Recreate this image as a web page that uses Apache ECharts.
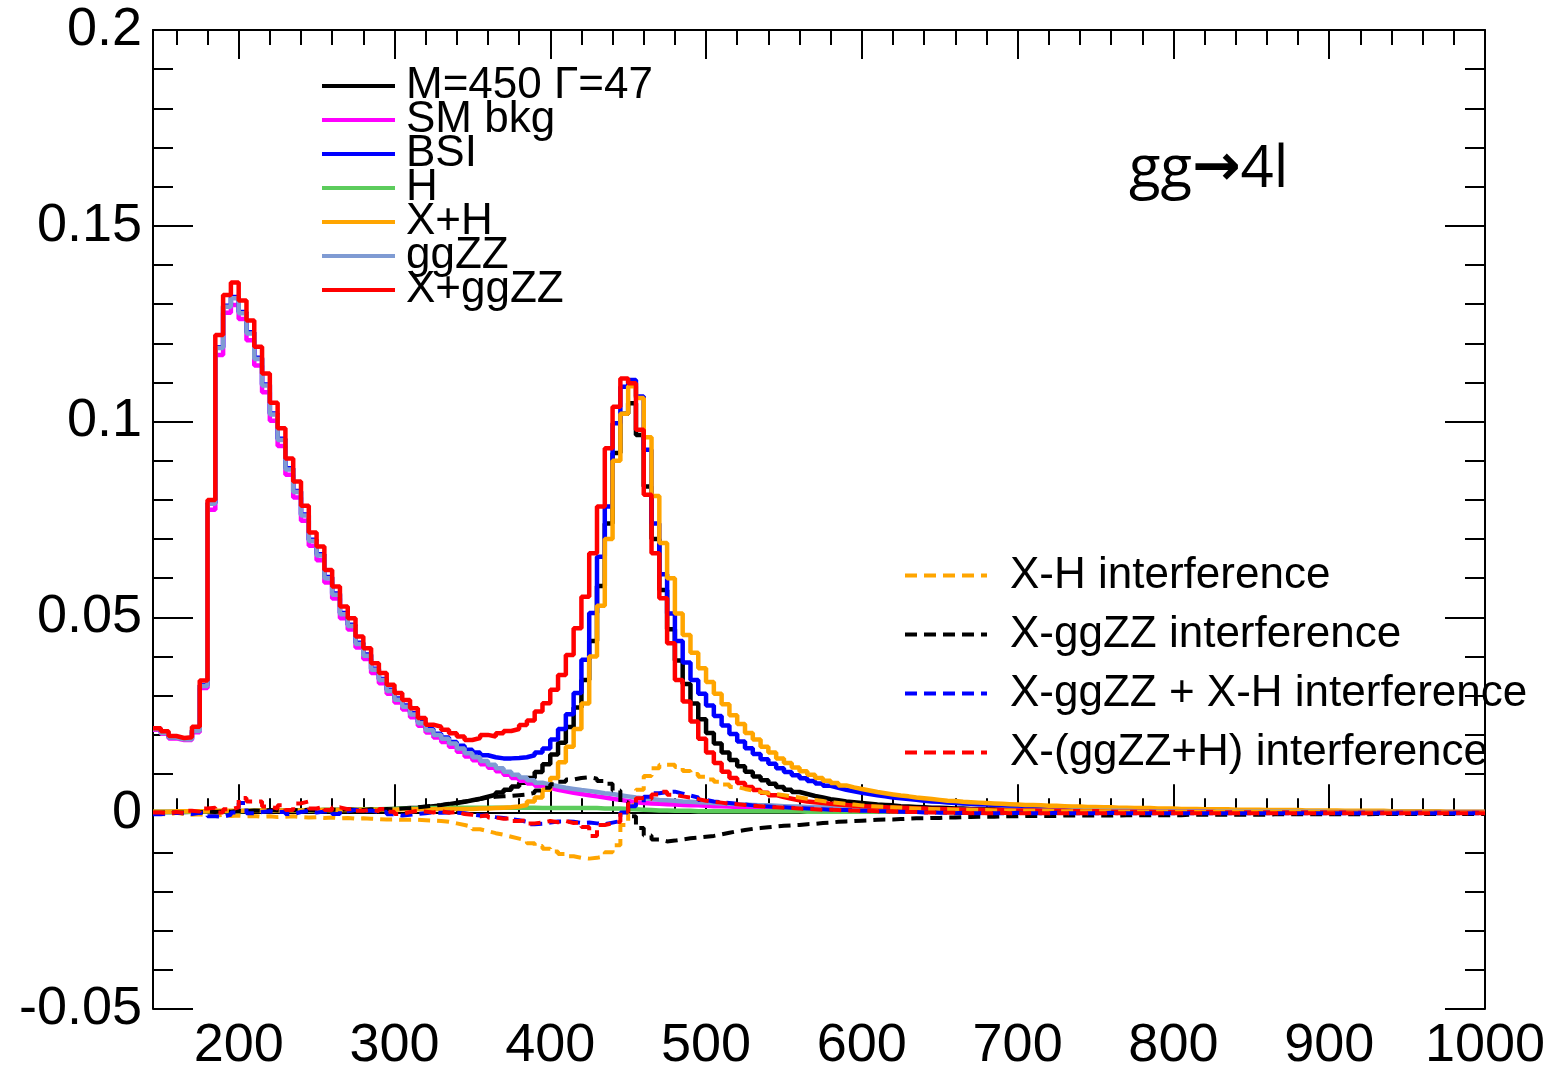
<!DOCTYPE html>
<html>
<head>
<meta charset="utf-8">
<script src="https://cdn.jsdelivr.net/npm/echarts@6/dist/echarts.min.js"></script>
<style>
  html, body { margin: 0; padding: 0; background: #ffffff; }
  #chart { width: 1557px; height: 1075px; }
</style>
</head>
<body>
<div id="chart"></div>
<script>
// Four-lepton invariant mass spectrum, gg -> 4l, heavy scalar X (M=450, Gamma=47)
// Histograms in 5 GeV bins from 145 to 1000.
const massLow = 145;
const massHigh = 1000;
const binWidth = 5;

const xMajorTicks = [200, 300, 400, 500, 600, 700, 800, 900, 1000];
const xMinorTicks = [160, 180, 220, 240, 260, 280, 320, 340, 360, 380, 420, 440, 460, 480,
  520, 540, 560, 580, 620, 640, 660, 680, 720, 740, 760, 780, 820, 840, 860, 880, 920, 940, 960, 980];

// M=450 Gamma=47 (signal X alone)
const signalX = [
  0.0003, 0.0003, 0.0003, 0.0003, 0.0004, 0.0004, 0.0004, 0.0004, 0.0005, 0.0005,
  0.0005, 0.0005, 0.0005, 0.0006, 0.0006, 0.0006, 0.0006, 0.0007, 0.0007, 0.0007,
  0.0007, 0.0008, 0.0008, 0.0008, 0.0008, 0.0008, 0.0009, 0.0009, 0.0009, 0.0010,
  0.0011, 0.0012, 0.0013, 0.0014, 0.0016, 0.0018, 0.0020, 0.0023, 0.0026, 0.0029,
  0.0033, 0.0037, 0.0042, 0.0047, 0.0053, 0.0060, 0.0068, 0.0078, 0.0090, 0.0105,
  0.0125, 0.0150, 0.0180, 0.0220, 0.0270, 0.0340, 0.0440, 0.0580, 0.0740, 0.0920,
  0.1020, 0.1047, 0.0966, 0.0834, 0.0700, 0.0570, 0.0470, 0.0390, 0.0330, 0.0280,
  0.0240, 0.0205, 0.0178, 0.0155, 0.0136, 0.0120, 0.0106, 0.0094, 0.0084, 0.0075,
  0.0067, 0.0060, 0.0054, 0.0049, 0.0044, 0.0040, 0.0036, 0.0033, 0.0030, 0.0028,
  0.0026, 0.0024, 0.0022, 0.0021, 0.0020, 0.0018, 0.0017, 0.0016, 0.0015, 0.0014,
  0.0014, 0.0013, 0.0012, 0.0012, 0.0011, 0.0011, 0.0010, 0.0010, 0.0009, 0.0009,
  0.0009, 0.0008, 0.0008, 0.0008, 0.0007, 0.0007, 0.0007, 0.0007, 0.0006, 0.0006,
  0.0006, 0.0006, 0.0006, 0.0006, 0.0005, 0.0005, 0.0005, 0.0005, 0.0005, 0.0005,
  0.0005, 0.0005, 0.0005, 0.0004, 0.0004, 0.0004, 0.0004, 0.0004, 0.0004, 0.0004,
  0.0004, 0.0004, 0.0004, 0.0004, 0.0003, 0.0003, 0.0003, 0.0003, 0.0003, 0.0003,
  0.0003, 0.0003, 0.0003, 0.0003, 0.0003, 0.0003, 0.0003, 0.0003, 0.0003, 0.0003,
  0.0003, 0.0003, 0.0003, 0.0002, 0.0002, 0.0002, 0.0002, 0.0002, 0.0002, 0.0002,
  0.0002
];

// SM bkg
const smBkg = [
  0.0213, 0.0203, 0.0191, 0.0187, 0.0187, 0.0207, 0.0320, 0.0775, 0.1170, 0.1278,
  0.1298, 0.1262, 0.1208, 0.1143, 0.1075, 0.1002, 0.0938, 0.0864, 0.0806, 0.0747,
  0.0683, 0.0646, 0.0589, 0.0548, 0.0498, 0.0469, 0.0423, 0.0394, 0.0358, 0.0332,
  0.0305, 0.0283, 0.0265, 0.0245, 0.0223, 0.0206, 0.0193, 0.0182, 0.0170, 0.0157,
  0.0145, 0.0135, 0.0125, 0.0116, 0.0107, 0.0098, 0.0090, 0.0083, 0.0076, 0.0070,
  0.0065, 0.0060, 0.0056, 0.0052, 0.0049, 0.0046, 0.0043, 0.0040, 0.0037, 0.0034,
  0.0031, 0.0028, 0.0026, 0.0025, 0.0024, 0.0023, 0.0022, 0.0021, 0.0020, 0.0020,
  0.0019, 0.0018, 0.0018, 0.0017, 0.0016, 0.0016, 0.0015, 0.0015, 0.0014, 0.0014,
  0.0013, 0.0013, 0.0012, 0.0012, 0.0012, 0.0011, 0.0011, 0.0011, 0.0010, 0.0010,
  0.0010, 0.0009, 0.0009, 0.0009, 0.0009, 0.0008, 0.0008, 0.0008, 0.0008, 0.0008,
  0.0008, 0.0008, 0.0008, 0.0007, 0.0007, 0.0007, 0.0007, 0.0007, 0.0007, 0.0007,
  0.0006, 0.0006, 0.0006, 0.0006, 0.0006, 0.0006, 0.0006, 0.0006, 0.0006, 0.0006,
  0.0005, 0.0005, 0.0005, 0.0005, 0.0005, 0.0005, 0.0005, 0.0005, 0.0005, 0.0005,
  0.0005, 0.0005, 0.0005, 0.0005, 0.0005, 0.0004, 0.0004, 0.0004, 0.0004, 0.0004,
  0.0004, 0.0004, 0.0004, 0.0004, 0.0004, 0.0004, 0.0004, 0.0004, 0.0004, 0.0004,
  0.0003, 0.0003, 0.0003, 0.0003, 0.0003, 0.0003, 0.0003, 0.0003, 0.0003, 0.0003,
  0.0003, 0.0003, 0.0003, 0.0003, 0.0003, 0.0002, 0.0002, 0.0002, 0.0002, 0.0002,
  0.0002
];

// BSI
const bsi = [
  0.0216, 0.0206, 0.0194, 0.0190, 0.0190, 0.0212, 0.0327, 0.0792, 0.1190, 0.1296,
  0.1318, 0.1280, 0.1228, 0.1163, 0.1095, 0.1021, 0.0956, 0.0881, 0.0823, 0.0763,
  0.0698, 0.0661, 0.0603, 0.0561, 0.0511, 0.0481, 0.0435, 0.0405, 0.0369, 0.0343,
  0.0315, 0.0293, 0.0275, 0.0255, 0.0233, 0.0215, 0.0203, 0.0193, 0.0182, 0.0172,
  0.0162, 0.0155, 0.0148, 0.0143, 0.0140, 0.0140, 0.0141, 0.0143, 0.0148, 0.0155,
  0.0165, 0.0188, 0.0215, 0.0253, 0.0307, 0.0392, 0.0511, 0.0655, 0.0783, 0.0996,
  0.1089, 0.1106, 0.1064, 0.0928, 0.0740, 0.0610, 0.0510, 0.0440, 0.0385, 0.0340,
  0.0305, 0.0275, 0.0248, 0.0224, 0.0202, 0.0183, 0.0166, 0.0151, 0.0138, 0.0126,
  0.0115, 0.0105, 0.0097, 0.0089, 0.0082, 0.0076, 0.0070, 0.0065, 0.0060, 0.0056,
  0.0052, 0.0049, 0.0046, 0.0043, 0.0040, 0.0038, 0.0036, 0.0034, 0.0032, 0.0030,
  0.0029, 0.0027, 0.0026, 0.0025, 0.0024, 0.0023, 0.0022, 0.0021, 0.0020, 0.0019,
  0.0018, 0.0017, 0.0017, 0.0016, 0.0015, 0.0015, 0.0014, 0.0014, 0.0013, 0.0013,
  0.0012, 0.0012, 0.0011, 0.0011, 0.0011, 0.0010, 0.0010, 0.0010, 0.0009, 0.0009,
  0.0009, 0.0008, 0.0008, 0.0008, 0.0008, 0.0007, 0.0007, 0.0007, 0.0007, 0.0006,
  0.0006, 0.0006, 0.0006, 0.0006, 0.0006, 0.0005, 0.0005, 0.0005, 0.0005, 0.0005,
  0.0005, 0.0005, 0.0005, 0.0004, 0.0004, 0.0004, 0.0004, 0.0004, 0.0004, 0.0004,
  0.0004, 0.0004, 0.0004, 0.0003, 0.0003, 0.0003, 0.0003, 0.0003, 0.0003, 0.0003,
  0.0003
];

// H (SM Higgs)
const higgs = [
  0.0003, 0.0003, 0.0003, 0.0004, 0.0004, 0.0004, 0.0005, 0.0005, 0.0005, 0.0005,
  0.0005, 0.0006, 0.0006, 0.0006, 0.0006, 0.0006, 0.0007, 0.0007, 0.0007, 0.0007,
  0.0008, 0.0008, 0.0008, 0.0009, 0.0009, 0.0009, 0.0010, 0.0010, 0.0010, 0.0011,
  0.0011, 0.0012, 0.0012, 0.0012, 0.0013, 0.0013, 0.0013, 0.0013, 0.0014, 0.0014,
  0.0014, 0.0014, 0.0014, 0.0014, 0.0014, 0.0014, 0.0014, 0.0014, 0.0014, 0.0013,
  0.0013, 0.0013, 0.0013, 0.0013, 0.0013, 0.0013, 0.0013, 0.0012, 0.0012, 0.0012,
  0.0011, 0.0010, 0.0009, 0.0008, 0.0007, 0.0007, 0.0006, 0.0006, 0.0006, 0.0005,
  0.0005, 0.0005, 0.0005, 0.0005, 0.0005, 0.0005, 0.0005, 0.0005, 0.0005, 0.0005,
  0.0005, 0.0005, 0.0005, 0.0004, 0.0004, 0.0004, 0.0004, 0.0004, 0.0004, 0.0004,
  0.0004, 0.0004, 0.0004, 0.0004, 0.0004, 0.0004, 0.0004, 0.0004, 0.0004, 0.0004,
  0.0003, 0.0003, 0.0003, 0.0003, 0.0003, 0.0003, 0.0003, 0.0003, 0.0003, 0.0003,
  0.0003, 0.0003, 0.0003, 0.0003, 0.0003, 0.0003, 0.0003, 0.0003, 0.0003, 0.0003,
  0.0002, 0.0002, 0.0002, 0.0002, 0.0002, 0.0002, 0.0002, 0.0002, 0.0002, 0.0002,
  0.0002, 0.0002, 0.0002, 0.0002, 0.0002, 0.0002, 0.0002, 0.0002, 0.0002, 0.0002,
  0.0002, 0.0002, 0.0002, 0.0002, 0.0002, 0.0001, 0.0001, 0.0001, 0.0001, 0.0001,
  0.0001, 0.0001, 0.0001, 0.0001, 0.0001, 0.0001, 0.0001, 0.0001, 0.0001, 0.0001,
  0.0001, 0.0001, 0.0001, 0.0001, 0.0001, 0.0001, 0.0001, 0.0001, 0.0001, 0.0001,
  0.0001
];

// X+H
const xPlusH = [
  0.0004, 0.0004, 0.0005, 0.0005, 0.0005, 0.0005, 0.0005, 0.0006, 0.0006, 0.0006,
  0.0006, 0.0006, 0.0006, 0.0007, 0.0007, 0.0007, 0.0007, 0.0007, 0.0007, 0.0008,
  0.0008, 0.0008, 0.0008, 0.0008, 0.0008, 0.0009, 0.0009, 0.0009, 0.0009, 0.0009,
  0.0009, 0.0010, 0.0010, 0.0010, 0.0010, 0.0010, 0.0011, 0.0011, 0.0011, 0.0011,
  0.0011, 0.0012, 0.0012, 0.0013, 0.0014, 0.0015, 0.0017, 0.0021, 0.0030, 0.0040,
  0.0060, 0.0090, 0.0130, 0.0170, 0.0215, 0.0280, 0.0400, 0.0530, 0.0700, 0.0900,
  0.1020, 0.1090, 0.1060, 0.0960, 0.0810, 0.0690, 0.0600, 0.0510, 0.0455, 0.0410,
  0.0370, 0.0335, 0.0305, 0.0278, 0.0250, 0.0228, 0.0205, 0.0188, 0.0170, 0.0155,
  0.0140, 0.0128, 0.0117, 0.0107, 0.0098, 0.0090, 0.0083, 0.0077, 0.0071, 0.0066,
  0.0062, 0.0058, 0.0054, 0.0051, 0.0048, 0.0045, 0.0043, 0.0040, 0.0038, 0.0036,
  0.0034, 0.0032, 0.0031, 0.0029, 0.0028, 0.0027, 0.0026, 0.0025, 0.0024, 0.0023,
  0.0022, 0.0021, 0.0021, 0.0020, 0.0019, 0.0019, 0.0018, 0.0017, 0.0017, 0.0016,
  0.0016, 0.0015, 0.0015, 0.0014, 0.0014, 0.0013, 0.0013, 0.0013, 0.0012, 0.0012,
  0.0012, 0.0011, 0.0011, 0.0011, 0.0010, 0.0010, 0.0010, 0.0010, 0.0009, 0.0009,
  0.0009, 0.0009, 0.0008, 0.0008, 0.0008, 0.0008, 0.0008, 0.0007, 0.0007, 0.0007,
  0.0007, 0.0007, 0.0006, 0.0006, 0.0006, 0.0006, 0.0006, 0.0006, 0.0005, 0.0005,
  0.0005, 0.0005, 0.0005, 0.0005, 0.0005, 0.0004, 0.0004, 0.0004, 0.0004, 0.0004,
  0.0004
];

// ggZZ
const ggZZ = [
  0.0215, 0.0205, 0.0193, 0.0189, 0.0189, 0.0210, 0.0325, 0.0790, 0.1188, 0.1293,
  0.1315, 0.1277, 0.1225, 0.1160, 0.1092, 0.1018, 0.0953, 0.0878, 0.0820, 0.0760,
  0.0695, 0.0658, 0.0600, 0.0558, 0.0508, 0.0478, 0.0432, 0.0402, 0.0366, 0.0340,
  0.0312, 0.0290, 0.0272, 0.0252, 0.0230, 0.0212, 0.0200, 0.0190, 0.0178, 0.0165,
  0.0153, 0.0143, 0.0133, 0.0124, 0.0115, 0.0106, 0.0098, 0.0091, 0.0084, 0.0078,
  0.0073, 0.0069, 0.0065, 0.0062, 0.0059, 0.0057, 0.0054, 0.0051, 0.0049, 0.0046,
  0.0043, 0.0040, 0.0038, 0.0036, 0.0034, 0.0033, 0.0032, 0.0030, 0.0029, 0.0028,
  0.0027, 0.0026, 0.0025, 0.0024, 0.0023, 0.0022, 0.0021, 0.0020, 0.0020, 0.0019,
  0.0018, 0.0017, 0.0017, 0.0016, 0.0016, 0.0015, 0.0015, 0.0014, 0.0014, 0.0013,
  0.0013, 0.0012, 0.0012, 0.0012, 0.0011, 0.0011, 0.0011, 0.0010, 0.0010, 0.0010,
  0.0009, 0.0009, 0.0009, 0.0009, 0.0009, 0.0008, 0.0008, 0.0008, 0.0008, 0.0008,
  0.0008, 0.0007, 0.0007, 0.0007, 0.0007, 0.0007, 0.0006, 0.0006, 0.0006, 0.0006,
  0.0006, 0.0006, 0.0006, 0.0006, 0.0006, 0.0005, 0.0005, 0.0005, 0.0005, 0.0005,
  0.0005, 0.0005, 0.0005, 0.0005, 0.0005, 0.0004, 0.0004, 0.0004, 0.0004, 0.0004,
  0.0004, 0.0004, 0.0004, 0.0004, 0.0004, 0.0004, 0.0004, 0.0004, 0.0004, 0.0004,
  0.0003, 0.0003, 0.0003, 0.0003, 0.0003, 0.0003, 0.0003, 0.0003, 0.0003, 0.0003,
  0.0003, 0.0003, 0.0003, 0.0003, 0.0003, 0.0002, 0.0002, 0.0002, 0.0002, 0.0002,
  0.0002
];

// X+ggZZ
const xPlusGgZZ = [
  0.0217, 0.0209, 0.0197, 0.0192, 0.0194, 0.0221, 0.0339, 0.0800, 0.1221, 0.1323,
  0.1355, 0.1309, 0.1258, 0.1191, 0.1123, 0.1048, 0.0983, 0.0906, 0.0847, 0.0785,
  0.0717, 0.0681, 0.0621, 0.0579, 0.0528, 0.0498, 0.0451, 0.0421, 0.0383, 0.0358,
  0.0328, 0.0307, 0.0289, 0.0268, 0.0243, 0.0226, 0.0221, 0.0213, 0.0204, 0.0196,
  0.0187, 0.0192, 0.0200, 0.0196, 0.0204, 0.0210, 0.0215, 0.0225, 0.0237, 0.0260,
  0.0281, 0.0315, 0.0353, 0.0404, 0.0472, 0.0553, 0.0664, 0.0783, 0.0932, 0.1038,
  0.1110, 0.1098, 0.0979, 0.0813, 0.0664, 0.0549, 0.0434, 0.0340, 0.0285, 0.0234,
  0.0190, 0.0155, 0.0128, 0.0106, 0.0090, 0.0077, 0.0067, 0.0059, 0.0052, 0.0046,
  0.0041, 0.0037, 0.0033, 0.0030, 0.0028, 0.0026, 0.0024, 0.0022, 0.0021, 0.0019,
  0.0018, 0.0017, 0.0016, 0.0015, 0.0014, 0.0014, 0.0013, 0.0012, 0.0012, 0.0011,
  0.0011, 0.0010, 0.0010, 0.0009, 0.0009, 0.0009, 0.0008, 0.0008, 0.0008, 0.0007,
  0.0007, 0.0007, 0.0007, 0.0006, 0.0006, 0.0006, 0.0006, 0.0005, 0.0005, 0.0005,
  0.0005, 0.0005, 0.0004, 0.0004, 0.0004, 0.0004, 0.0004, 0.0004, 0.0003, 0.0003,
  0.0003, 0.0003, 0.0003, 0.0003, 0.0003, 0.0003, 0.0002, 0.0002, 0.0002, 0.0002,
  0.0002, 0.0002, 0.0002, 0.0002, 0.0002, 0.0002, 0.0002, 0.0002, 0.0002, 0.0002,
  0.0002, 0.0002, 0.0002, 0.0001, 0.0001, 0.0001, 0.0001, 0.0001, 0.0001, 0.0001,
  0.0001, 0.0001, 0.0001, 0.0001, 0.0001, 0.0001, 0.0001, 0.0001, 0.0001, 0.0001,
  0.0001
];

// X-H interference
const intXH = [
  -0.0002, -0.0003, 0.0001, -0.0002, -0.0004, -0.0003, -0.0005, -0.0006, -0.0004, -0.0007,
  -0.0006, -0.0008, -0.0007, -0.0009, -0.0008, -0.0010, -0.0009, -0.0008, -0.0010, -0.0011,
  -0.0010, -0.0012, -0.0011, -0.0013, -0.0012, -0.0014, -0.0013, -0.0014, -0.0015, -0.0016,
  -0.0016, -0.0017, -0.0017, -0.0017, -0.0018, -0.0019, -0.0020, -0.0022, -0.0026, -0.0030,
  -0.0035, -0.0041, -0.0046, -0.0051, -0.0055, -0.0060, -0.0065, -0.0070, -0.0077, -0.0084,
  -0.0091, -0.0098, -0.0104, -0.0110, -0.0114, -0.0116, -0.0114, -0.0110, -0.0100, -0.0082,
  -0.0030, 0.0020, 0.0060, 0.0095, 0.0115, 0.0124, 0.0124, 0.0118, 0.0108, 0.0100,
  0.0093, 0.0086, 0.0080, 0.0073, 0.0067, 0.0062, 0.0058, 0.0054, 0.0051, 0.0049,
  0.0046, 0.0043, 0.0040, 0.0037, 0.0034, 0.0031, 0.0028, 0.0026, 0.0024, 0.0022,
  0.0020, 0.0018, 0.0017, 0.0016, 0.0015, 0.0014, 0.0013, 0.0012, 0.0011, 0.0011,
  0.0010, 0.0010, 0.0009, 0.0009, 0.0008, 0.0008, 0.0008, 0.0007, 0.0007, 0.0007,
  0.0006, 0.0006, 0.0006, 0.0006, 0.0006, 0.0005, 0.0005, 0.0005, 0.0005, 0.0005,
  0.0005, 0.0005, 0.0005, 0.0004, 0.0004, 0.0004, 0.0004, 0.0004, 0.0004, 0.0004,
  0.0004, 0.0004, 0.0004, 0.0003, 0.0003, 0.0003, 0.0003, 0.0003, 0.0003, 0.0003,
  0.0003, 0.0003, 0.0003, 0.0003, 0.0003, 0.0003, 0.0003, 0.0003, 0.0003, 0.0003,
  0.0002, 0.0002, 0.0002, 0.0002, 0.0002, 0.0002, 0.0002, 0.0002, 0.0002, 0.0002,
  0.0002, 0.0002, 0.0002, 0.0002, 0.0002, 0.0001, 0.0001, 0.0001, 0.0001, 0.0001,
  0.0001
];

// X-ggZZ interference
const intXggZZ = [
  0.0001, 0.0002, 0.0001, 0.0002, 0.0003, 0.0002, 0.0004, 0.0003, 0.0005, 0.0004,
  0.0006, 0.0005, 0.0007, 0.0006, 0.0008, 0.0007, 0.0006, 0.0008, 0.0007, 0.0009,
  0.0008, 0.0007, 0.0009, 0.0008, 0.0010, 0.0009, 0.0008, 0.0010, 0.0009, 0.0011,
  0.0010, 0.0012, 0.0013, 0.0015, 0.0017, 0.0019, 0.0021, 0.0024, 0.0027, 0.0030,
  0.0033, 0.0036, 0.0040, 0.0042, 0.0043, 0.0044, 0.0046, 0.0048, 0.0052, 0.0058,
  0.0065, 0.0074, 0.0080, 0.0086, 0.0090, 0.0092, 0.0088, 0.0082, 0.0075, 0.0058,
  0.0028, -0.0008, -0.0038, -0.0057, -0.0067, -0.0072, -0.0070, -0.0067, -0.0064, -0.0062,
  -0.0060, -0.0058, -0.0054, -0.0050, -0.0046, -0.0043, -0.0040, -0.0038, -0.0036, -0.0034,
  -0.0032, -0.0031, -0.0030, -0.0028, -0.0027, -0.0025, -0.0024, -0.0022, -0.0021, -0.0020,
  -0.0019, -0.0018, -0.0017, -0.0016, -0.0016, -0.0015, -0.0014, -0.0013, -0.0013, -0.0012,
  -0.0012, -0.0011, -0.0011, -0.0010, -0.0010, -0.0009, -0.0009, -0.0009, -0.0008, -0.0008,
  -0.0008, -0.0007, -0.0007, -0.0007, -0.0007, -0.0007, -0.0006, -0.0006, -0.0006, -0.0006,
  -0.0006, -0.0006, -0.0006, -0.0006, -0.0005, -0.0005, -0.0005, -0.0005, -0.0005, -0.0005,
  -0.0005, -0.0005, -0.0004, -0.0004, -0.0004, -0.0004, -0.0004, -0.0004, -0.0004, -0.0004,
  -0.0004, -0.0004, -0.0004, -0.0003, -0.0003, -0.0003, -0.0003, -0.0003, -0.0003, -0.0003,
  -0.0003, -0.0003, -0.0003, -0.0003, -0.0003, -0.0003, -0.0002, -0.0002, -0.0002, -0.0002,
  -0.0002, -0.0002, -0.0002, -0.0002, -0.0002, -0.0002, -0.0002, -0.0002, -0.0002, -0.0002,
  -0.0002
];

// X-ggZZ + X-H interference
const intSum = [
  -0.0003, 0.0000, 0.0001, 0.0000, -0.0002, 0.0001, -0.0001, -0.0008, -0.0009, -0.0004,
  0.0002, 0.0026, 0.0000, 0.0003, 0.0005, 0.0003, 0.0004, -0.0002, 0.0003, 0.0006,
  0.0002, 0.0004, 0.0006, -0.0002, 0.0005, 0.0009, 0.0005, 0.0007, 0.0003, 0.0004,
  -0.0003, -0.0006, -0.0004, -0.0002, 0.0000, 0.0002, 0.0001, 0.0002, 0.0001, 0.0000,
  -0.0003, -0.0006, -0.0006, -0.0010, -0.0012, -0.0015, -0.0018, -0.0022, -0.0028, -0.0027,
  -0.0024, -0.0021, -0.0021, -0.0022, -0.0025, -0.0024, -0.0026, -0.0028, -0.0024, -0.0020,
  0.0002, 0.0018, 0.0028, 0.0042, 0.0051, 0.0054, 0.0055, 0.0050, 0.0045, 0.0040,
  0.0034, 0.0030, 0.0028, 0.0026, 0.0024, 0.0022, 0.0020, 0.0018, 0.0017, 0.0016,
  0.0015, 0.0014, 0.0013, 0.0012, 0.0011, 0.0010, 0.0009, 0.0008, 0.0008, 0.0007,
  0.0006, 0.0006, 0.0005, 0.0005, 0.0004, 0.0004, 0.0003, 0.0003, 0.0002, 0.0002,
  0.0001, 0.0001, 0.0000, 0.0001, 0.0000, 0.0000, 0.0001, 0.0000, 0.0000, 0.0000,
  0.0001, 0.0000, 0.0000, 0.0000, 0.0000, 0.0001, 0.0000, 0.0000, 0.0000, 0.0000,
  0.0000, 0.0000, 0.0001, 0.0000, 0.0000, 0.0000, 0.0000, 0.0000, 0.0000, 0.0000,
  0.0000, 0.0000, 0.0000, 0.0000, 0.0000, 0.0000, 0.0000, 0.0000, 0.0000, 0.0000,
  0.0000, 0.0000, 0.0000, 0.0000, 0.0000, 0.0000, 0.0000, 0.0000, 0.0000, 0.0000,
  0.0000, 0.0000, 0.0000, 0.0000, 0.0000, 0.0000, 0.0000, 0.0000, 0.0000, 0.0000,
  0.0000, 0.0000, 0.0000, 0.0000, 0.0000, 0.0000, 0.0000, 0.0000, 0.0000, 0.0000,
  0.0000
];

// X-(ggZZ+H) interference
const intXggZZH = [
  0.0002, -0.0001, 0.0003, 0.0000, 0.0006, 0.0004, 0.0012, 0.0014, 0.0002, 0.0010,
  0.0015, 0.0039, 0.0030, 0.0030, 0.0017, 0.0012, 0.0020, 0.0008, 0.0025, 0.0030,
  0.0012, 0.0017, 0.0008, 0.0015, 0.0010, 0.0012, 0.0006, 0.0009, 0.0005, 0.0011,
  0.0004, -0.0002, 0.0003, 0.0006, 0.0004, 0.0002, 0.0005, 0.0001, 0.0003, -0.0002,
  -0.0004, -0.0008, -0.0005, -0.0011, -0.0014, -0.0013, -0.0020, -0.0018, -0.0026, -0.0024,
  -0.0020, -0.0023, -0.0020, -0.0025, -0.0024, -0.0035, -0.0058, -0.0030, -0.0026, -0.0022,
  0.0004, 0.0025, 0.0038, 0.0036, 0.0048, 0.0055, 0.0047, 0.0043, 0.0040, 0.0036,
  0.0032, 0.0029, 0.0027, 0.0024, 0.0023, 0.0021, 0.0019, 0.0018, 0.0016, 0.0015,
  0.0014, 0.0013, 0.0012, 0.0011, 0.0010, 0.0009, 0.0009, 0.0008, 0.0007, 0.0007,
  0.0006, 0.0006, 0.0005, 0.0005, 0.0004, 0.0004, 0.0003, 0.0003, 0.0002, 0.0002,
  0.0002, 0.0001, 0.0001, 0.0001, 0.0000, 0.0001, 0.0000, 0.0000, 0.0001, 0.0000,
  0.0000, 0.0000, 0.0001, 0.0000, 0.0000, 0.0000, 0.0000, 0.0000, 0.0000, 0.0000,
  0.0000, 0.0000, 0.0000, 0.0000, 0.0000, 0.0000, 0.0000, 0.0000, 0.0000, 0.0000,
  0.0000, 0.0000, 0.0000, 0.0000, 0.0000, 0.0000, 0.0000, 0.0000, 0.0000, 0.0000,
  0.0000, 0.0000, 0.0000, 0.0000, 0.0000, 0.0000, 0.0000, 0.0000, 0.0000, 0.0000,
  0.0000, 0.0000, 0.0000, 0.0000, 0.0000, 0.0000, 0.0000, 0.0000, 0.0000, 0.0000,
  0.0000, 0.0000, 0.0000, 0.0000, 0.0000, 0.0000, 0.0000, 0.0000, 0.0000, 0.0000,
  0.0000
];

// Turn per-bin contents into step points: [lower edge, content] plus the closing edge.
function histPoints(contents) {
  const pts = contents.map((v, i) => [massLow + i * binWidth, v]);
  pts.push([massHigh, contents[contents.length - 1]]);
  return pts;
}

const FONT = '"Liberation Sans", Arial, Helvetica, sans-serif';
const DASH = [12, 7];

function hist(name, contents, color, dashed) {
  return {
    name: name,
    type: 'line',
    step: 'end',
    symbol: 'none',
    showSymbol: false,
    silent: true,
    data: histPoints(contents),
    lineStyle: { color: color, width: dashed ? 4 : 4.5, type: dashed ? DASH : 'solid' },
    itemStyle: { color: color },
    emphasis: { disabled: true }
  };
}

const solidLegend = ['M=450 \u0393=47', 'SM bkg', 'BSI', 'H', 'X+H', 'ggZZ', 'X+ggZZ'];
const dashedLegend = ['X-H interference', 'X-ggZZ interference', 'X-ggZZ + X-H interference', 'X-(ggZZ+H) interference'];

const frameLine = { show: true, lineStyle: { color: '#000', width: 2 } };

function xAxisDef(position, ticks, len, withLine, withLabels) {
  return {
    type: 'value', position: position, min: massLow, max: massHigh,
    axisLine: withLine ? frameLine : { show: false },
    axisTick: { show: true, inside: true, length: len, customValues: ticks,
                lineStyle: { color: '#000', width: 2 } },
    axisLabel: withLabels
      ? { show: true, customValues: ticks, formatter: (v) => String(v),
          fontFamily: FONT, fontSize: 54, color: '#000', margin: 10 }
      : { show: false },
    splitLine: { show: false }
  };
}

function yAxisDef(position, withLabels) {
  return {
    type: 'value', position: position, min: -0.05, max: 0.2, interval: 0.05,
    axisLine: frameLine,
    axisTick: { show: true, inside: true, length: 40, lineStyle: { color: '#000', width: 2 } },
    minorTick: { show: true, splitNumber: 5, length: 20, lineStyle: { color: '#000', width: 2 } },
    axisLabel: withLabels
      ? { show: true, fontFamily: FONT, fontSize: 54, color: '#000', margin: 11 }
      : { show: false },
    splitLine: { show: false }
  };
}

const legendCommon = {
  orient: 'vertical', itemHeight: 14, selectedMode: false,
  itemStyle: { opacity: 0, borderWidth: 0 },
  lineStyle: { width: 4 }
};

const chart = echarts.init(document.getElementById('chart'), null, { renderer: 'canvas' });

chart.setOption({
  animation: false,
  backgroundColor: '#ffffff',
  grid: { left: 153, right: 72, top: 30, bottom: 66, containLabel: false },
  title: {
    text: '{t|gg}{a|\u2192}{t|4l}',
    left: 1124, top: 136,
    textStyle: {
      fontWeight: 'normal',
      rich: {
        t: { fontFamily: '"Open Sans", "DejaVu Sans", sans-serif', fontSize: 58, fontWeight: 'normal', color: '#000' },
        a: { fontFamily: '"DejaVu Sans", sans-serif', fontSize: 58, fontWeight: 'bold', color: '#000' }
      }
    }
  },
  legend: [
    Object.assign({}, legendCommon, {
      data: solidLegend, left: 315, top: 59,
      itemWidth: 73, itemGap: -10,
      textStyle: { fontFamily: FONT, fontSize: 44, color: '#000', lineHeight: 34, padding: [0, 0, 0, 6] }
    }),
    Object.assign({}, legendCommon, {
      data: dashedLegend, left: 898, top: 541,
      itemWidth: 82, itemGap: 0,
      textStyle: { fontFamily: FONT, fontSize: 44, color: '#000', lineHeight: 59, padding: [0, 0, 0, 18] }
    })
  ],
  xAxis: [
    xAxisDef('bottom', xMajorTicks, 29, true, true),
    xAxisDef('bottom', xMinorTicks, 15, false, false),
    xAxisDef('top', xMajorTicks, 29, true, false),
    xAxisDef('top', xMinorTicks, 15, false, false)
  ],
  yAxis: [
    yAxisDef('left', true),
    yAxisDef('right', false)
  ],
  series: [
    hist('M=450 \u0393=47', signalX, '#000000', false),
    hist('SM bkg', smBkg, '#ff00ff', false),
    hist('BSI', bsi, '#0000ff', false),
    hist('H', higgs, '#5ccc5c', false),
    hist('X+H', xPlusH, '#ffa500', false),
    hist('ggZZ', ggZZ, '#7f9bd3', false),
    hist('X+ggZZ', xPlusGgZZ, '#ff0000', false),
    hist('X-H interference', intXH, '#ffa500', true),
    hist('X-ggZZ interference', intXggZZ, '#000000', true),
    hist('X-ggZZ + X-H interference', intSum, '#0000ff', true),
    hist('X-(ggZZ+H) interference', intXggZZH, '#ff0000', true)
  ]
});
</script>
</body>
</html>
